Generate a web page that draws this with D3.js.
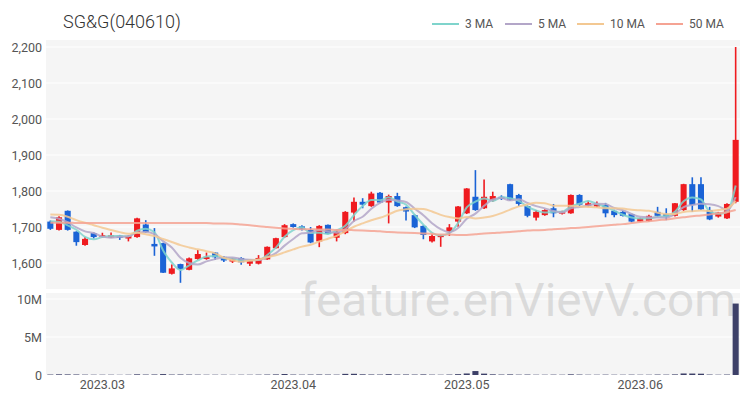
<!DOCTYPE html>
<html><head><meta charset="utf-8">
<script src="https://cdn.jsdelivr.net/npm/d3@7"></script>
<style>body{margin:0;background:#fff;}svg{display:block;font-family:Roboto,"Noto Sans",sans-serif;}</style>
</head><body><div id="chart"></div>
<script>
const dates = ["2023-02-21","2023-02-22","2023-02-23","2023-02-24","2023-02-27","2023-02-28",
"2023-03-02","2023-03-03","2023-03-06","2023-03-07","2023-03-08","2023-03-09","2023-03-10","2023-03-13","2023-03-14","2023-03-15","2023-03-16","2023-03-17","2023-03-20","2023-03-21","2023-03-22","2023-03-23","2023-03-24","2023-03-27","2023-03-28","2023-03-29","2023-03-30","2023-03-31",
"2023-04-03","2023-04-04","2023-04-05","2023-04-06","2023-04-07","2023-04-10","2023-04-11","2023-04-12","2023-04-13","2023-04-14","2023-04-17","2023-04-18","2023-04-19","2023-04-20","2023-04-21","2023-04-24","2023-04-25","2023-04-26","2023-04-27","2023-04-28",
"2023-05-02","2023-05-03","2023-05-04","2023-05-08","2023-05-09","2023-05-10","2023-05-11","2023-05-12","2023-05-15","2023-05-16","2023-05-17","2023-05-18","2023-05-19","2023-05-22","2023-05-23","2023-05-24","2023-05-25","2023-05-26","2023-05-30","2023-05-31",
"2023-06-01","2023-06-02","2023-06-05","2023-06-07","2023-06-08","2023-06-09","2023-06-12","2023-06-13","2023-06-14","2023-06-15","2023-06-16","2023-06-19"];
const open  = [1715,1692,1745,1687,1650,1683,1672,1671,1676,1668,1672,1707,1653,1655,1570,1597,1581,1611,1611,1629,1617,1604,1614,1598,1598,1610,1641,1672,1708,1702,1692,1660,1706,1670,1683,1740,1770,1758,1795,1768,1786,1755,1733,1703,1660,1673,1688,1715,1738,1784,1752,1774,1784,1819,1789,1758,1726,1733,1752,1737,1738,1789,1759,1757,1761,1745,1742,1736,1715,1717,1742,1736,1731,1747,1819,1819,1747,1729,1724,1770];
const high  = [1718,1730,1746,1688,1672,1685,1684,1685,1678,1677,1726,1719,1697,1656,1596,1598,1615,1636,1629,1630,1619,1614,1616,1610,1622,1646,1670,1708,1710,1705,1700,1705,1707,1692,1744,1782,1780,1798,1797,1790,1795,1757,1735,1705,1680,1678,1708,1758,1808,1858,1832,1798,1788,1820,1792,1760,1747,1749,1764,1745,1790,1791,1773,1771,1767,1748,1745,1737,1726,1734,1756,1752,1767,1820,1838,1838,1756,1742,1766,2200];
const low   = [1692,1690,1690,1648,1648,1668,1671,1670,1664,1660,1670,1684,1620,1572,1568,1545,1580,1609,1609,1608,1603,1600,1595,1592,1596,1609,1640,1670,1698,1690,1655,1644,1680,1660,1680,1715,1752,1756,1766,1710,1756,1718,1697,1666,1657,1645,1675,1701,1736,1745,1750,1770,1775,1773,1758,1727,1718,1731,1727,1735,1737,1758,1756,1755,1727,1727,1729,1713,1714,1715,1728,1719,1729,1745,1742,1747,1719,1726,1722,1766];
const close = [1695,1727,1692,1658,1667,1672,1677,1677,1670,1675,1724,1686,1646,1573,1585,1583,1613,1625,1617,1616,1607,1612,1602,1608,1614,1645,1669,1705,1700,1693,1657,1703,1681,1687,1742,1770,1762,1793,1768,1786,1758,1743,1699,1678,1675,1676,1699,1757,1807,1747,1784,1786,1778,1775,1764,1731,1742,1747,1738,1743,1789,1762,1766,1764,1738,1733,1731,1715,1724,1731,1731,1729,1766,1819,1761,1749,1721,1740,1764,1942];
const volume = [60000,90000,80000,70000,50000,40000,40000,40000,30000,40000,90000,60000,70000,120000,60000,70000,60000,50000,40000,40000,40000,30000,40000,40000,50000,60000,80000,130000,60000,50000,60000,70000,60000,50000,150000,160000,90000,70000,60000,110000,60000,70000,60000,80000,50000,40000,60000,110000,200000,520000,180000,90000,60000,80000,50000,60000,40000,40000,50000,40000,90000,60000,40000,40000,50000,40000,40000,50000,40000,40000,60000,50000,80000,200000,190000,170000,60000,40000,60000,9400000];
// closes before the first visible day (for the short moving averages)
const priorClose = [1735,1745,1750,1742,1738,1748,1740,1730,1722];
const ma50 = [1712,1712,1712,1711,1711,1711,1711,1711,1711,1711,1711,1711,1711,1711,1711,1711,1711,1711,1711,1710,1710,1709,1707,1705,1702,1700,1698,1696,1695,1694,1694,1693,1693,1692,1692,1691,1690,1689,1688,1686,1685,1684,1683,1682,1681,1679,1679,1678,1678,1680,1682,1683,1685,1686,1688,1690,1691,1692,1694,1695,1697,1698,1700,1702,1704,1706,1708,1711,1714,1716,1719,1721,1724,1727,1730,1732,1735,1738,1741,1747];
const priceTicks = [1600,1700,1800,1900,2000,2100,2200];
const volTicks = [0,5000000,10000000];
const volTickLabels = ["0","5M","10M"];
const monthTicks = ["2023-03-02","2023-04-03","2023-05-02","2023-06-01"];
const monthLabels = ["2023.03","2023.04","2023.05","2023.06"];
const title = "SG&G(040610)";
const maNames = ["3 MA","5 MA","10 MA","50 MA"];
const maColors = ["#7fd4cc","#b3a6c8","#f3c892","#f5a393"];

const W = 750, H = 400;
const L = 46, R = 740;
const svg = d3.select("#chart").append("svg").attr("width",W).attr("height",H);

const x = d3.scaleBand().domain(dates).range([L,R]).paddingInner(0.3).paddingOuter(0.15);
const cx = d => x(d) + x.bandwidth()/2;
const y = d3.scaleLinear().domain([1600,2200]).range([263,47]);
const yv = d3.scaleLinear().domain([0,10000000]).range([375,299]);

// panels
svg.append("rect").attr("x",L).attr("y",40).attr("width",R-L).attr("height",249).attr("fill","#f5f5f5");
svg.append("rect").attr("x",L).attr("y",293).attr("width",R-L).attr("height",82).attr("fill","#f5f5f5");

// gridlines
svg.append("g").selectAll("line").data(priceTicks).join("line")
  .attr("x1",L).attr("x2",R).attr("y1",d=>y(d)).attr("y2",d=>y(d)).attr("stroke","#fff").attr("stroke-width",1);
svg.append("g").selectAll("line").data(volTicks).join("line")
  .attr("x1",L).attr("x2",R).attr("y1",d=>yv(d)).attr("y2",d=>yv(d)).attr("stroke","#fff").attr("stroke-width",1);

// watermark
svg.append("text").attr("x",736).attr("y",316).attr("text-anchor","end")
  .attr("textLength",436).attr("lengthAdjust","spacingAndGlyphs")
  .attr("font-size",46).attr("fill","#c4c4c4").attr("fill-opacity",0.55).text("feature.enVievV.com");

// axes
const yAxis = d3.axisLeft(y).tickValues(priceTicks).tickSize(0).tickPadding(4).tickFormat(d3.format(","));
const ga = svg.append("g").attr("transform",`translate(${L},0)`).call(yAxis);
const yvAxis = d3.axisLeft(yv).tickValues(volTicks).tickSize(0).tickPadding(4).tickFormat((d,i)=>volTickLabels[i]);
const gv = svg.append("g").attr("transform",`translate(${L},0)`).call(yvAxis);
const xAxis = d3.axisBottom(x).tickValues(monthTicks).tickSize(0).tickPadding(3).tickFormat((d,i)=>monthLabels[i]);
const gx = svg.append("g").attr("transform",`translate(0,377)`).call(xAxis);
[ga,gv,gx].forEach(g=>{g.select(".domain").remove();g.selectAll("text").attr("font-size",12.5).attr("fill","#555").attr("font-family","Roboto,sans-serif");});

// volume bars
svg.append("g").selectAll("rect").data(dates).join("rect")
  .attr("x",d=>x(d)).attr("width",x.bandwidth())
  .attr("y",(d,i)=>yv(volume[i])).attr("height",(d,i)=>375-yv(volume[i]))
  .attr("fill","#3d4068");

// candles
const up = "#ef1b1f", down = "#1a63d6";
const cg = svg.append("g");
cg.selectAll("line").data(dates).join("line")
  .attr("x1",d=>cx(d)).attr("x2",d=>cx(d))
  .attr("y1",(d,i)=>y(high[i])).attr("y2",(d,i)=>y(low[i]))
  .attr("stroke",(d,i)=>close[i]>=open[i]?up:down).attr("stroke-width",1.6);
cg.selectAll("rect").data(dates).join("rect")
  .attr("x",d=>x(d)).attr("width",x.bandwidth())
  .attr("y",(d,i)=>y(Math.max(open[i],close[i])))
  .attr("height",(d,i)=>Math.max(1.5,Math.abs(y(open[i])-y(close[i]))))
  .attr("fill",(d,i)=>close[i]>=open[i]?up:down);

// moving averages
const allClose = priorClose.concat(close);
function ma(n){ return close.map((c,i)=>{const k=i+priorClose.length; return d3.mean(allClose.slice(k-n+1,k+1));}); }
const maSeries = [ma(3),ma(5),ma(10),ma50];
const line = d3.line().x((v,i)=>cx(dates[i])).y(v=>y(v)).curve(d3.curveMonotoneX);
maSeries.forEach((s,k)=>{
  svg.append("path").datum(s).attr("d",line).attr("fill","none")
    .attr("stroke",maColors[k]).attr("stroke-width",2).attr("stroke-opacity",0.85);
});

// title
svg.append("text").attr("x",63).attr("y",28).attr("font-size",18).attr("fill","#333").attr("font-weight",300).text(title);

// legend
const legX = [432,505,577,656];
const lg = svg.append("g");
maNames.forEach((n,k)=>{
  lg.append("line").attr("x1",legX[k]).attr("x2",legX[k]+27).attr("y1",24).attr("y2",24).attr("stroke",maColors[k]).attr("stroke-width",2);
  lg.append("text").attr("x",legX[k]+33).attr("y",28).attr("font-size",12).attr("fill","#555").text(n);
});
</script></body></html>
